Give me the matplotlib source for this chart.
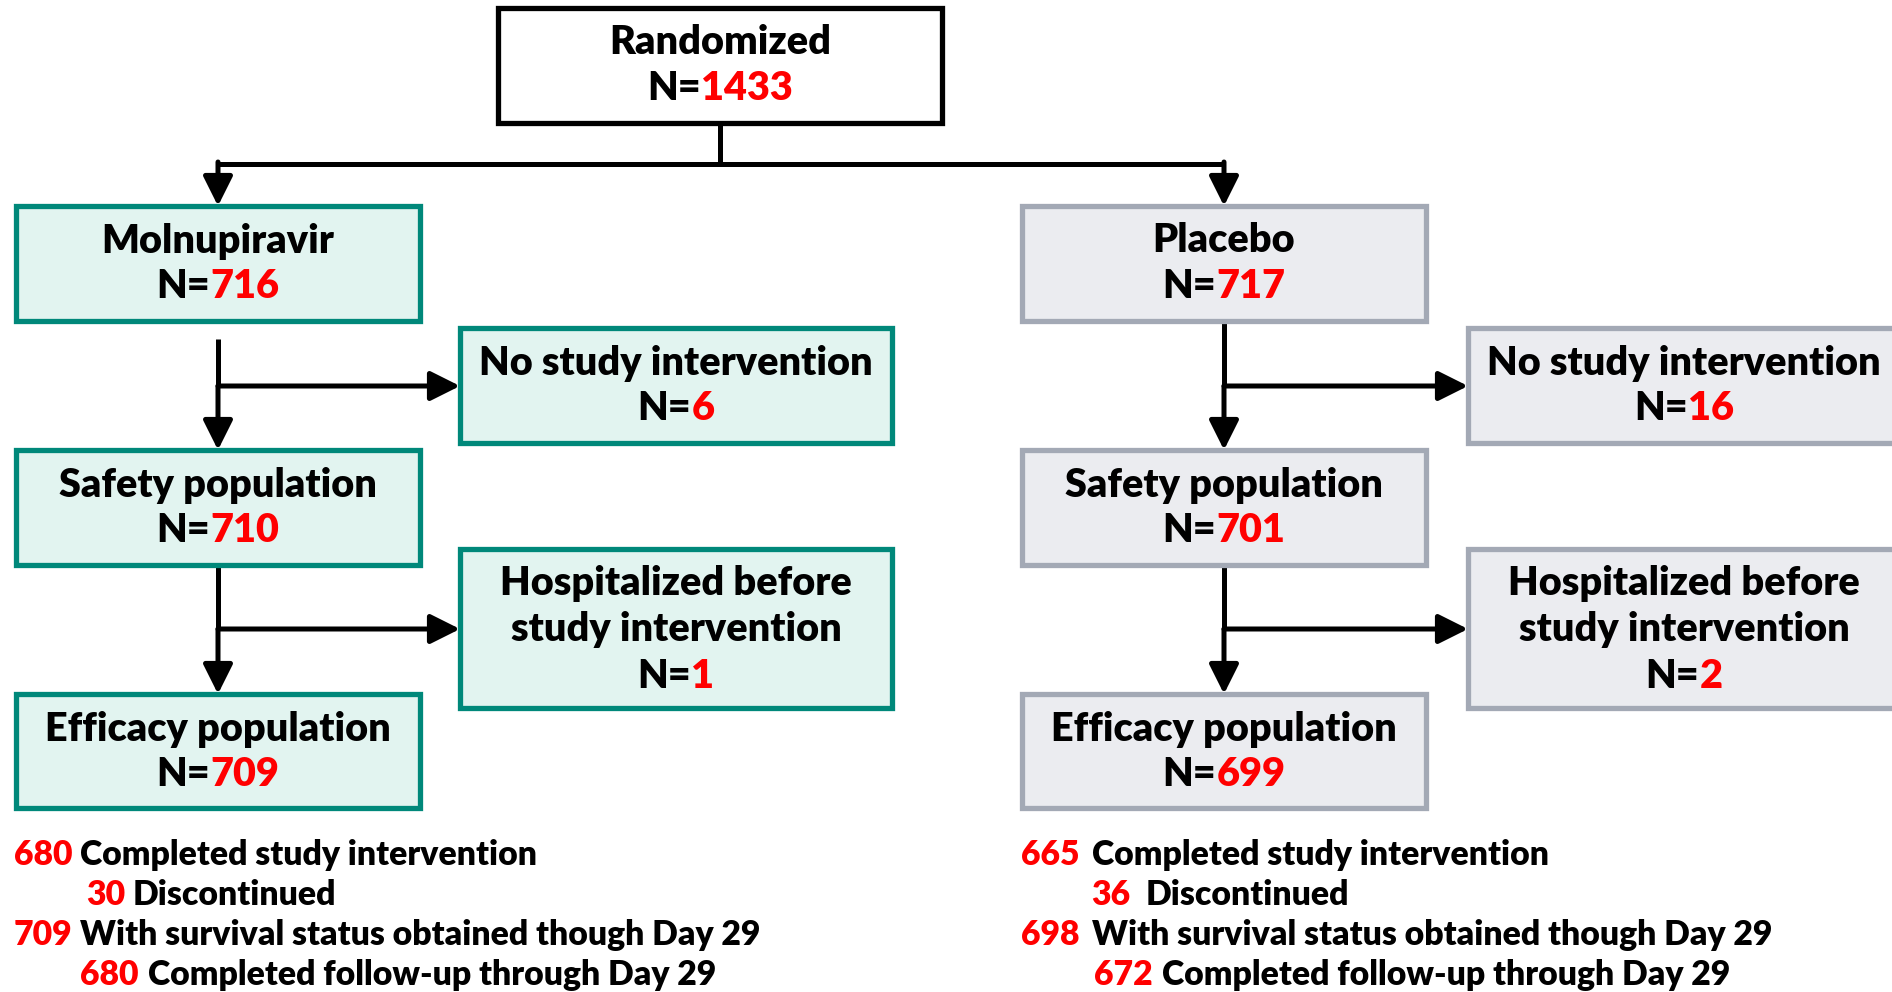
import matplotlib
matplotlib.use('Agg')
import matplotlib.pyplot as plt
from matplotlib.patches import Rectangle

plt.rcParams['font.family'] = ['Lato', 'DejaVu Sans']

# flow numbers
randomized_n = 1433
arms = ['Molnupiravir', 'Placebo']
arm_n = [716, 717]
no_interv_n = [6, 16]
safety_n = [710, 701]
hosp_n = [1, 2]
efficacy_n = [709, 699]

completed_n = [680, 665]
discontinued_n = [30, 36]
survival_n = [709, 698]
followup_n = [680, 672]

RED = '#ff0000'
TEAL_EDGE = '#00887a'
TEAL_FILL = '#e2f4f0'
GRAY_EDGE = '#a3a9b5'
GRAY_FILL = '#ebecf0'
BOX_FS = 28.5
FOOT_FS = 24.3
WT = 'heavy'

W, H = 1892, 992
fig = plt.figure(figsize=(W / 100, H / 100), dpi=100)
ax = fig.add_axes([0, 0, 1, 1])
ax.set_xlim(0, W)
ax.set_ylim(H, 0)
ax.axis('off')
renderer = fig.canvas.get_renderer()


def text_width(s, fs):
    t = ax.text(0, 0, s, fontsize=fs, fontweight=WT)
    bb = t.get_window_extent(renderer)
    t.remove()
    return bb.width


def draw_segments(x, y, segs, fs):
    total = sum(text_width(s, fs) for s, c in segs)
    cur = x - total / 2
    for s, c in segs:
        ax.text(cur, y, s, fontsize=fs, fontweight=WT, color=c,
                ha='left', va='center', zorder=3)
        cur += text_width(s, fs)


def box(x0, y0, x1, y1, edge, fill, lines, n):
    ax.add_patch(Rectangle((x0, y0), x1 - x0, y1 - y0, facecolor=fill,
                           edgecolor=edge, linewidth=3.8, zorder=2))
    cx = (x0 + x1) / 2
    y = y0 + 35
    for ln in lines:
        ax.text(cx, y, ln, fontsize=BOX_FS, fontweight=WT,
                ha='center', va='center', zorder=3)
        y += 46
    draw_segments(cx, y, [('N=', 'black'), (str(n), RED)], BOX_FS)


def line(pts):
    xs, ys = zip(*pts)
    ax.plot(xs, ys, color='black', lw=3.6, solid_capstyle='butt', zorder=1)


def arrow(x0, y0, x1, y1):
    ax.annotate('', xy=(x1, y1), xytext=(x0, y0),
                arrowprops=dict(arrowstyle='-|>,head_length=0.9,head_width=0.45',
                                lw=3.6, color='black', shrinkA=0, shrinkB=0,
                                mutation_scale=20), zorder=1)


# top
box(498, 8, 942, 123, 'black', 'white', ['Randomized'], randomized_n)
line([(720, 123), (720, 164)])
line([(218, 164), (1224, 164)])

cols = [218, 1224]
side_x = [460, 1468]
edges = [TEAL_EDGE, GRAY_EDGE]
fills = [TEAL_FILL, GRAY_FILL]
starts = [339, 321]

for i in range(2):
    cx = cols[i]
    bx0, bx1 = cx - 202, cx + 202
    sx0 = side_x[i]
    arrow(cx, 162, cx, 206)
    box(bx0, 206, bx1, 321, edges[i], fills[i], [arms[i]], arm_n[i])
    line([(cx, starts[i]), (cx, 386)])
    arrow(cx, 386, cx, 450)
    arrow(cx, 386, sx0, 386)
    box(sx0, 328, sx0 + 432, 443, edges[i], fills[i],
        ['No study intervention'], no_interv_n[i])
    box(bx0, 450, bx1, 565, edges[i], fills[i], ['Safety population'], safety_n[i])
    line([(cx, 565), (cx, 629)])
    arrow(cx, 629, cx, 694)
    arrow(cx, 629, sx0, 629)
    box(sx0, 549, sx0 + 432, 708, edges[i], fills[i],
        ['Hospitalized before', 'study intervention'], hosp_n[i])
    box(bx0, 694, bx1, 808, edges[i], fills[i], ['Efficacy population'], efficacy_n[i])

# footnotes
foot_rows = [855, 895, 935, 975]
num_x = [[14, 86, 14, 80], [1021, 1091, 1021, 1094]]
lab_x = [[80, 133, 80, 148], [1092, 1146, 1092, 1162]]
labels = ['Completed study intervention', 'Discontinued',
          'With survival status obtained though Day 29',
          'Completed follow-up through Day 29']
for i in range(2):
    nums = [completed_n[i], discontinued_n[i], survival_n[i], followup_n[i]]
    for r in range(4):
        ax.text(num_x[i][r], foot_rows[r], str(nums[r]), fontsize=FOOT_FS,
                fontweight=WT, color=RED, ha='left', va='center')
        ax.text(lab_x[i][r], foot_rows[r], labels[r], fontsize=FOOT_FS,
                fontweight=WT, color='black', ha='left', va='center')

fig.savefig('out.png', dpi=100, facecolor='white')
